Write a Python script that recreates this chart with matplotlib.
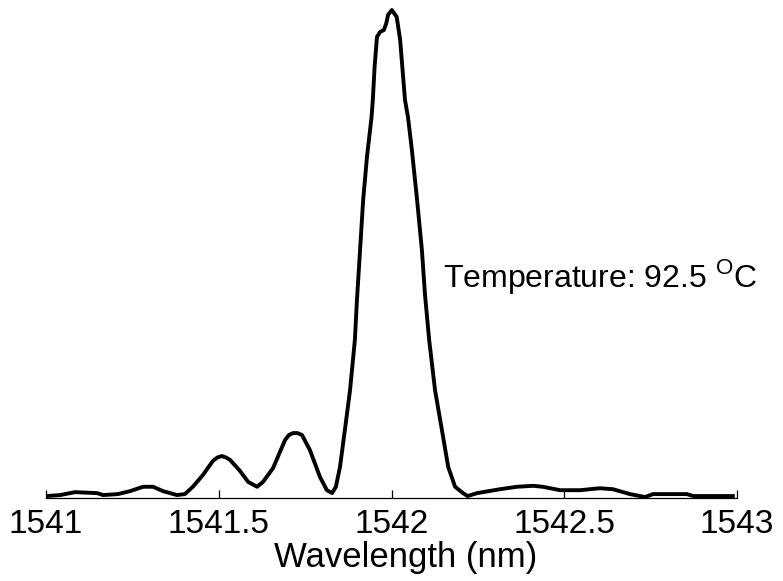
import matplotlib
matplotlib.use("Agg")
import matplotlib.pyplot as plt

plt.rcParams['font.family'] = ['Liberation Sans', 'DejaVu Sans']
plt.rcParams['mathtext.fontset'] = 'custom'
plt.rcParams['mathtext.rm'] = 'Liberation Sans'

# spectrum (intensity normalised to the peak)
wavelength = [1541.000, 1541.041, 1541.084, 1541.148, 1541.165, 1541.208, 1541.243, 1541.281,
              1541.310, 1541.339, 1541.379, 1541.402, 1541.425, 1541.454, 1541.483, 1541.496,
              1541.509, 1541.521, 1541.533, 1541.562, 1541.585, 1541.611, 1541.628, 1541.657,
              1541.692, 1541.703, 1541.715, 1541.728, 1541.741, 1541.764, 1541.793, 1541.813,
              1541.828, 1541.839, 1541.851, 1541.865, 1541.880, 1541.894, 1541.900, 1541.909,
              1541.918, 1541.929, 1541.942, 1541.946, 1541.951, 1541.958, 1541.967, 1541.978,
              1541.985, 1541.990, 1542.001, 1542.015, 1542.025, 1542.039, 1542.048, 1542.059,
              1542.074, 1542.088, 1542.097, 1542.109, 1542.126, 1542.146, 1542.164, 1542.184,
              1542.207, 1542.220, 1542.248, 1542.314, 1542.363, 1542.410, 1542.438, 1542.488,
              1542.546, 1542.603, 1542.641, 1542.690, 1542.734, 1542.757, 1542.855, 1542.873,
              1542.988]
intensity = [0.004, 0.006, 0.012, 0.010, 0.006, 0.008, 0.014, 0.023,
             0.023, 0.014, 0.006, 0.008, 0.023, 0.047, 0.076, 0.083,
             0.086, 0.083, 0.078, 0.055, 0.033, 0.023, 0.033, 0.061,
             0.119, 0.129, 0.133, 0.133, 0.129, 0.098, 0.043, 0.016,
             0.010, 0.023, 0.064, 0.139, 0.221, 0.324, 0.406, 0.508,
             0.611, 0.699, 0.779, 0.816, 0.883, 0.945, 0.955, 0.959,
             0.973, 0.990, 1.000, 0.986, 0.939, 0.816, 0.779, 0.713,
             0.611, 0.508, 0.416, 0.324, 0.221, 0.139, 0.064, 0.023,
             0.010, 0.004, 0.010, 0.018, 0.023, 0.025, 0.023, 0.016,
             0.016, 0.020, 0.018, 0.008, 0.002, 0.008, 0.008, 0.004,
             0.004]

xticks = [1541, 1541.5, 1542, 1542.5, 1543]
xtick_labels = ['1541', '1541.5', '1542', '1542.5', '1543']

W, H = 783, 581
fig = plt.figure(figsize=(W / 100, H / 100), dpi=100)
ax = fig.add_axes([46 / W, 1 - 498 / H, 691 / W, 498 / H])

ax.plot(wavelength, intensity, color='black', lw=2.8, solid_joinstyle='round')

ax.set_xlim(1541, 1543)
ax.set_ylim(0, 1.0205)
for side in ['left', 'right', 'top']:
    ax.spines[side].set_visible(False)
ax.spines['bottom'].set_linewidth(0.9)
ax.set_yticks([])
ax.set_xticks(xticks)
ax.set_xticklabels(xtick_labels)
ax.tick_params(axis='x', direction='in', length=6, width=0.9, labelsize=24, pad=8)
ax.set_xlabel('Wavelength (nm)', fontsize=25, x=0.52, labelpad=1)

ax.text(0.5745, 0.4237, r'Temperature: 92.5 $^{\mathrm{O}}$C', transform=ax.transAxes,
        fontsize=23, va='baseline', ha='left')

fig.savefig('out.png', dpi=100)
